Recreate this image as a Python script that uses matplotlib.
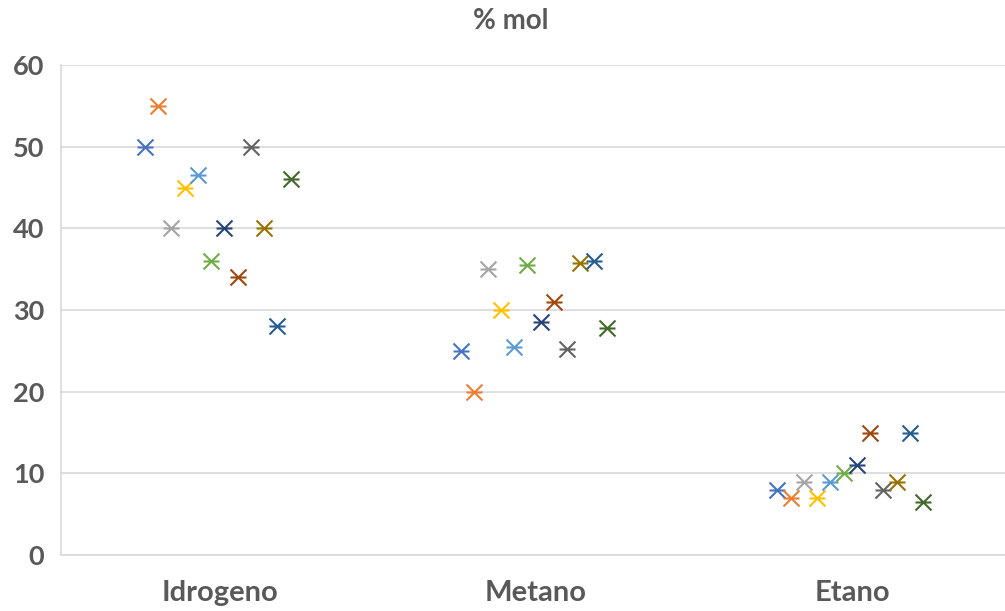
import numpy as np
import matplotlib
matplotlib.use("Agg")
import matplotlib.pyplot as plt
from matplotlib.path import Path

categories = ["Idrogeno", "Metano", "Etano"]

s1 = [50, 25, 8]
s2 = [55, 20, 7]
s3 = [40, 35, 9]
s4 = [45, 30, 7]
s5 = [46.5, 25.5, 9]
s6 = [36, 35.5, 10]
s7 = [40, 28.5, 11]
s8 = [34, 31, 15]
s9 = [50, 25.2, 8]
s10 = [40, 35.8, 9]
s11 = [28, 36, 15]
s12 = [46, 27.8, 6.5]
series = [s1, s2, s3, s4, s5, s6, s7, s8, s9, s10, s11, s12]

colors = ["#4472C4", "#ED7D31", "#A5A5A5", "#FFC000", "#5B9BD5", "#70AD47",
          "#264478", "#9E480E", "#636363", "#997300", "#255E91", "#43682B"]

title = "% mol"
yticks = [0, 10, 20, 30, 40, 50, 60]

plt.rcParams['font.family'] = ['Lato', 'DejaVu Sans']
txt = "#595959"

marker = Path([(-1, -1), (1, 1), (-1, 1), (1, -1), (-1, 0), (1, 0)],
              [Path.MOVETO, Path.LINETO, Path.MOVETO, Path.LINETO, Path.MOVETO, Path.LINETO])

fig = plt.figure(figsize=(10.05, 6.11), dpi=100)
ax = fig.add_axes([61/1005, 56/611, (1005-61)/1005, (555-65)/611])

base = np.arange(len(categories))
for i, (vals, c) in enumerate(zip(series, colors)):
    off = -0.237 + i * 0.0419
    ax.plot(base + off, vals, linestyle='none', marker=marker, markersize=11.5,
            markeredgecolor=c, markerfacecolor='none', markeredgewidth=1.5)

ax.set_ylim(0, 60)
ax.set_xlim(-0.502, 2.483)
ax.set_yticks(yticks)
ax.set_xticks(base)
ax.set_xticklabels(categories)
ax.yaxis.grid(True, color="#D9D9D9", linewidth=1.2)
ax.set_axisbelow(True)
for sp in ['top', 'right']:
    ax.spines[sp].set_visible(False)
ax.spines['left'].set_color("#D9D9D9")
ax.spines['bottom'].set_color("#D9D9D9")
ax.spines['left'].set_linewidth(1.2)
ax.spines['bottom'].set_linewidth(1.2)
ax.tick_params(axis='y', length=0, colors=txt, labelsize=19.5, pad=12)
ax.tick_params(axis='x', length=0, colors=txt, labelsize=21, pad=18)
for lab in ax.get_xticklabels() + ax.get_yticklabels():
    lab.set_fontweight('bold')

fig.text(511/1005, 1 - 29/611, title, ha='center', va='baseline',
         fontsize=20, fontweight='bold', color=txt)

fig.savefig("out.png", dpi=100)
